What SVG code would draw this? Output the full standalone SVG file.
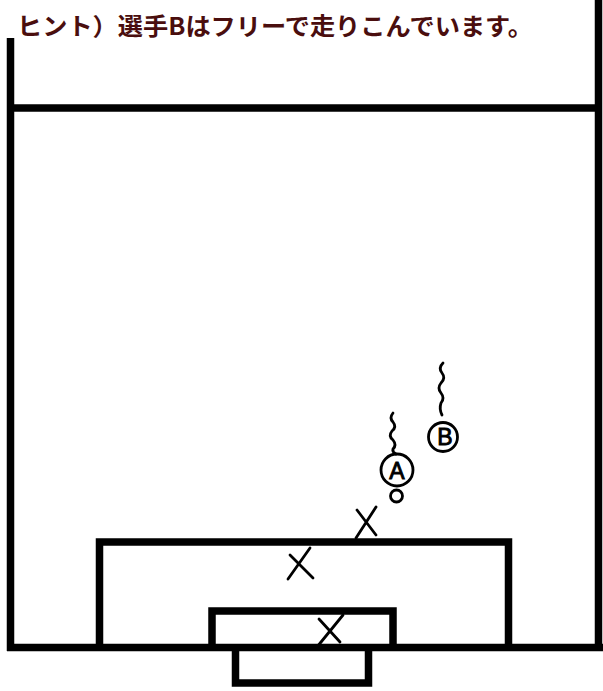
<svg xmlns="http://www.w3.org/2000/svg" width="603" height="691" viewBox="0 0 603 691">
<style>
.fl{fill:none;stroke:#000;stroke-width:7.5;}
.hd{fill:none;stroke:#000;stroke-width:2.8;stroke-linecap:round;stroke-linejoin:round;}
.lt{font-family:"Liberation Sans",sans-serif;font-size:23px;fill:#000;stroke:#000;stroke-width:0.9;text-anchor:middle;}
.hint{font-family:"Noto Sans CJK JP","Noto Sans",sans-serif;font-size:24px;font-weight:bold;fill:#4a0e0e;}
</style>
<rect width="603" height="691" fill="#fff"/>
<text class="hint" x="17" y="35" textLength="516" lengthAdjust="spacingAndGlyphs">ヒント）選手Bはフリーで走りこんでいます。</text>
<g id="field">
<path class="fl" d="M10.5 38 V651"/>
<path class="fl" d="M598.5 0 V651"/>
<path class="fl" d="M10.5 108 H598.5"/>
<path class="fl" d="M7 647.5 H603"/>
</g>
<g id="penalty-area"><path class="fl" d="M99.5 651 V542 H508.5 V651"/></g>
<g id="goal-area"><path class="fl" d="M212 651 V611 H393 V651"/></g>
<g id="goal"><path class="fl" d="M235.5 644 V683 H368.5 V644"/></g>
<g id="defender-1"><path class="hd" d="M376 507 L356 538 M357 510 L376 535"/></g>
<g id="defender-2"><path class="hd" d="M310 548 L288 579 M290 555 L313 578"/></g>
<g id="defender-3"><path class="hd" d="M343 615 L317 647 M319 619 L340 642"/></g>
<g id="player-a">
<path class="hd" d="M393 413 q-4 5 0 9 q4 5 -1 9 q-4 5 1 9 q4 5 0 9 q-1 3 3 5"/>
<circle class="hd" cx="397" cy="470" r="16"/>
<text class="lt" x="397" y="479">A</text>
<circle class="hd" cx="396.5" cy="496" r="6"/>
</g>
<g id="player-b">
<path class="hd" d="M443 363 q-5 5 -1 10 q4 5 -1 10 q-4 5 0 10 q4 5 0 10 q-2 6 1 12"/>
<circle class="hd" cx="443" cy="437" r="14.5"/>
<text class="lt" x="445" y="445">B</text>
</g>
</svg>
